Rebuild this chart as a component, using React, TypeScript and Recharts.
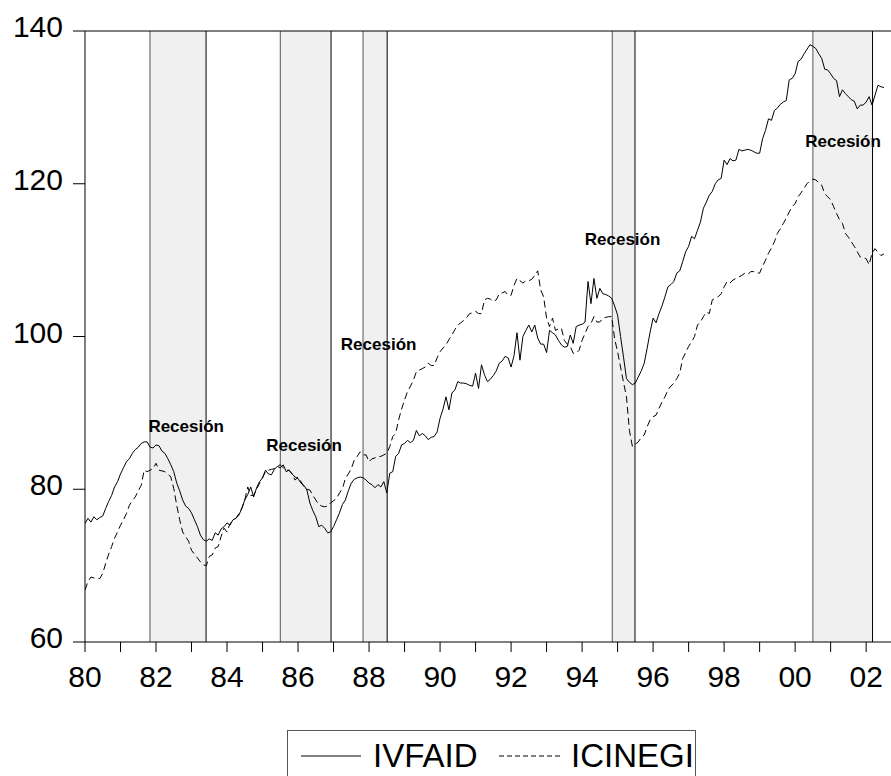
import {
  ComposedChart,
  Line,
  XAxis,
  YAxis,
  ReferenceArea,
  ReferenceLine,
  ReferenceDot,
} from "recharts";

// monthly values, Jan 1980 .. Jul 2002
const IVFAID = [
  75.5, 76.2, 75.7, 76.4, 76.0, 76.3, 76.5, 77.5, 78.4, 79.2, 80.3, 81.0, // 1980
  82.0, 82.8, 83.6, 84.0, 84.7, 85.2, 85.5, 86.0, 86.2, 86.2, 85.5, 85.4, // 1981
  85.8, 85.7, 85.0, 84.7, 84.0, 83.2, 82.3, 80.8, 79.8, 78.6, 77.8, 77.5, // 1982
  76.9, 76.0, 75.1, 74.0, 73.4, 73.2, 73.5, 73.3, 74.3, 74.0, 74.8, 75.1, // 1983
  75.6, 75.3, 76.0, 76.2, 76.6, 77.5, 78.6, 79.3, 80.3, 79.0, 80.2, 81.0, // 1984
  81.5, 82.5, 82.0, 81.9, 82.6, 83.0, 82.8, 83.2, 82.3, 82.5, 82.0, 81.6, // 1985
  81.4, 80.8, 80.5, 79.9, 78.2, 77.2, 76.4, 75.1, 75.3, 74.9, 74.3, 74.4, // 1986
  75.1, 76.0, 76.9, 78.0, 78.6, 79.8, 80.8, 81.3, 81.5, 81.6, 81.5, 81.2, // 1987
  80.8, 80.6, 80.2, 80.6, 80.3, 81.0, 79.5, 82.1, 82.3, 84.3, 84.7, 85.8, // 1988
  86.0, 86.4, 86.1, 86.4, 87.7, 87.0, 87.3, 87.0, 86.5, 86.8, 86.9, 87.5, // 1989
  89.3, 90.5, 92.1, 90.4, 92.6, 93.0, 94.1, 93.9, 93.9, 93.8, 93.6, 93.5, // 1990
  95.2, 93.2, 96.3, 95.0, 94.1, 94.4, 94.9, 95.5, 96.5, 96.8, 97.4, 97.2, // 1991
  96.0, 97.5, 100.5, 96.9, 100.0, 100.8, 101.5, 100.6, 101.5, 99.8, 99.0, 99.0, // 1992
  97.9, 100.8, 100.5, 100.2, 99.5, 98.9, 98.6, 98.7, 100.2, 99.1, 101.3, 101.5, // 1993
  101.6, 101.9, 107.2, 104.3, 107.6, 105.0, 106.3, 105.6, 105.5, 105.3, 105.0, 104.0, // 1994
  102.8, 100.0, 97.3, 94.5, 94.0, 93.7, 93.9, 94.7, 95.5, 96.5, 98.5, 100.6, // 1995
  102.4, 101.8, 103.0, 104.0, 105.2, 106.5, 106.8, 107.2, 108.3, 108.6, 109.8, 111.1, // 1996
  111.8, 113.1, 112.8, 113.9, 115.0, 116.8, 117.6, 118.5, 119.0, 120.0, 120.5, 120.7, // 1997
  123.1, 122.5, 123.3, 123.0, 123.1, 124.5, 124.3, 124.4, 124.5, 124.4, 124.2, 124.0, // 1998
  124.0, 125.9, 127.0, 128.5, 128.3, 129.6, 129.9, 130.4, 130.7, 130.9, 133.6, 133.8, // 1999
  134.4, 136.0, 136.3, 137.0, 137.6, 138.2, 138.0, 137.7, 137.0, 136.4, 135.0, 134.9, // 2000
  134.4, 133.8, 133.5, 131.4, 132.3, 131.8, 131.4, 131.0, 130.8, 129.8, 130.3, 130.3, // 2001
  130.7, 131.4, 130.3, 131.6, 132.9, 132.7, 132.6, // 2002
];

const ICINEGI = [
  66.8, 67.9, 68.5, 68.4, 68.3, 68.3, 69.0, 70.3, 71.5, 72.5, 73.6, 74.4, // 1980
  75.3, 76.0, 76.8, 77.9, 78.5, 79.0, 79.8, 80.5, 82.5, 82.3, 82.5, 82.7, // 1981
  83.4, 82.5, 82.4, 82.3, 82.0, 81.6, 80.1, 77.9, 76.0, 74.4, 73.8, 73.2, // 1982
  72.0, 71.5, 71.0, 70.5, 70.1, 70.0, 71.2, 71.4, 72.3, 72.5, 73.8, 74.9, // 1983
  74.4, 75.5, 75.8, 76.2, 76.8, 77.5, 78.6, 80.3, 79.2, 79.2, 80.0, 80.8, // 1984
  81.5, 82.3, 82.5, 82.6, 82.7, 83.0, 83.2, 82.8, 82.5, 82.5, 82.0, 81.2, // 1985
  81.6, 81.0, 80.3, 80.0, 79.9, 79.2, 78.6, 78.0, 77.8, 77.7, 77.8, 78.2, // 1986
  78.5, 78.8, 79.5, 80.1, 81.4, 82.0, 82.7, 83.8, 84.3, 84.9, 84.5, 84.5, // 1987
  83.6, 84.0, 84.1, 84.3, 84.3, 84.5, 84.7, 85.6, 86.9, 87.3, 89.1, 90.5, // 1988
  91.7, 92.8, 93.5, 94.3, 95.4, 95.6, 95.8, 96.0, 96.5, 96.2, 96.2, 97.2, // 1989
  98.0, 98.5, 98.9, 99.6, 100.2, 100.9, 101.5, 101.8, 102.1, 102.5, 103.0, 103.1, // 1990
  103.3, 103.0, 103.0, 104.8, 105.0, 104.9, 104.6, 104.8, 105.6, 105.7, 105.9, 105.4, // 1991
  105.4, 106.7, 107.6, 107.3, 107.0, 107.3, 107.3, 107.5, 108.0, 108.6, 106.1, 105.2, // 1992
  102.4, 101.3, 102.4, 100.8, 101.0, 101.1, 99.5, 99.0, 98.7, 97.8, 97.8, 98.2, // 1993
  99.5, 100.4, 101.3, 101.7, 102.6, 101.9, 101.9, 102.4, 102.5, 102.6, 102.6, 99.7, // 1994
  98.0, 96.0, 94.0, 92.1, 87.7, 85.6, 85.9, 86.2, 86.8, 87.1, 88.2, 89.1, // 1995
  89.5, 89.7, 90.6, 91.4, 92.1, 93.0, 93.5, 93.9, 94.5, 95.2, 97.1, 97.9, // 1996
  98.7, 99.3, 100.0, 101.5, 101.9, 102.6, 103.2, 103.0, 104.8, 105.0, 105.2, 105.6, // 1997
  106.5, 107.2, 107.0, 107.4, 107.6, 107.8, 108.0, 108.3, 108.1, 108.5, 108.5, 108.3, // 1998
  108.3, 109.2, 110.0, 110.9, 111.6, 112.4, 113.5, 114.1, 114.8, 115.5, 116.3, 117.0, // 1999
  117.4, 118.3, 118.8, 119.4, 120.0, 120.4, 120.6, 120.5, 120.1, 119.8, 118.7, 118.3, // 2000
  117.9, 117.0, 116.1, 115.3, 114.8, 113.5, 113.0, 112.4, 111.8, 111.1, 110.4, 110.3, // 2001
  110.2, 109.4, 110.9, 111.5, 111.0, 110.6, 110.8, // 2002
];

const START_YEAR = 1980;
const yearTicks = Array.from({ length: 23 }, (_, i) => START_YEAR + i);
const yTicks = [60, 80, 100, 120, 140];

// recession periods (start, end) in decimal years
const recessions = [
  [1981.83, 1983.41],
  [1985.5, 1986.93],
  [1987.83, 1988.51],
  [1994.85, 1995.49],
  [2000.5, 2002.18],
];

// where the "Recesión" captions sit (year, value)
const captions = [
  [1982.85, 88.3],
  [1986.17, 85.8],
  [1988.27, 99.0],
  [1995.14, 112.75],
  [2001.35, 125.6],
];

const data = IVFAID.map((v, i) => ({
  t: START_YEAR + i / 12,
  ivfaid: v,
  icinegi: ICINEGI[i],
}));

const FONT = "'Liberation Sans', Arial, sans-serif";

const XTick = (props: any) => {
  const { x, y, payload } = props;
  const yr = payload.value as number;
  if (yr % 2 !== 0) return <g />;
  const label = String(yr % 100).padStart(2, "0");
  return (
    <text x={x} y={y + 33} textAnchor="middle" fontSize={30} fontFamily={FONT} fill="#000">
      {label}
    </text>
  );
};

const YTick = (props: any) => {
  const { x, y, payload } = props;
  return (
    <text x={x} y={y + 6} textAnchor="end" fontSize={30} fontFamily={FONT} fill="#000">
      {payload.value}
    </text>
  );
};

export default function App() {
  return (
    <div style={{ position: "absolute", left: 0, top: 0, width: 891, height: 776, background: "#fff", fontFamily: FONT }}>
      <ComposedChart
        width={891}
        height={776}
        data={data}
        margin={{ top: 31, right: 0, left: 0, bottom: 74 }}
      >
        <XAxis
          dataKey="t"
          type="number"
          domain={[1980, 2002.7]}
          ticks={yearTicks}
          interval={0}
          tick={<XTick />}
          tickSize={10}
          tickMargin={2}
          height={60}
          axisLine={{ stroke: "#000" }}
          tickLine={{ stroke: "#000" }}
          allowDataOverflow
        />
        <YAxis
          type="number"
          domain={[60, 140]}
          ticks={yTicks}
          interval={0}
          tick={<YTick />}
          tickSize={12}
          tickMargin={10}
          width={85}
          axisLine={{ stroke: "#000" }}
          tickLine={{ stroke: "#000" }}
        />
        {recessions.map(([a, b], i) => (
          <ReferenceArea key={"ra" + i} x1={a} x2={b} fill="#f0f0f0" fillOpacity={1} stroke="none" />
        ))}
        {recessions.map(([a], i) => (
          <ReferenceLine key={"rl" + i} x={a} stroke="#555" strokeWidth={1} />
        ))}
        {recessions.map(([, b], i) => (
          <ReferenceLine key={"rr" + i} x={b} stroke="#000" strokeWidth={1} />
        ))}
        <ReferenceLine y={140} stroke="#000" strokeWidth={1} />
        <Line
          type="linear"
          dataKey="ivfaid"
          stroke="#000"
          strokeWidth={1}
          dot={false}
          isAnimationActive={false}
        />
        <Line
          type="linear"
          dataKey="icinegi"
          stroke="#000"
          strokeWidth={1}
          strokeDasharray="7 4"
          dot={false}
          isAnimationActive={false}
        />
        {captions.map(([cx, cy], i) => (
          <ReferenceDot
            key={"c" + i}
            x={cx}
            y={cy}
            r={0}
            fill="none"
            stroke="none"
            label={{
              value: "Recesión",
              position: "center",
              fontSize: 17,
              fontWeight: "bold",
              fontFamily: FONT,
              fill: "#000",
            }}
          />
        ))}
      </ComposedChart>
      <svg
        width={891}
        height={776}
        style={{ position: "absolute", left: 0, top: 0, pointerEvents: "none" }}
      >
        <line x1={301} x2={361} y1={756} y2={756} stroke="#000" strokeWidth={1} />
        <text x={373} y={767} fontSize={33} fontFamily={FONT} fill="#000">IVFAID</text>
        <line x1={499} x2={560} y1={756} y2={756} stroke="#000" strokeWidth={1} strokeDasharray="5 3" />
        <text x={571} y={767} fontSize={33} fontFamily={FONT} fill="#000">ICINEGI</text>
        <rect x={287.5} y={730.5} width={408} height={60} fill="none" stroke="#555" strokeWidth={1} />
      </svg>
    </div>
  );
}
